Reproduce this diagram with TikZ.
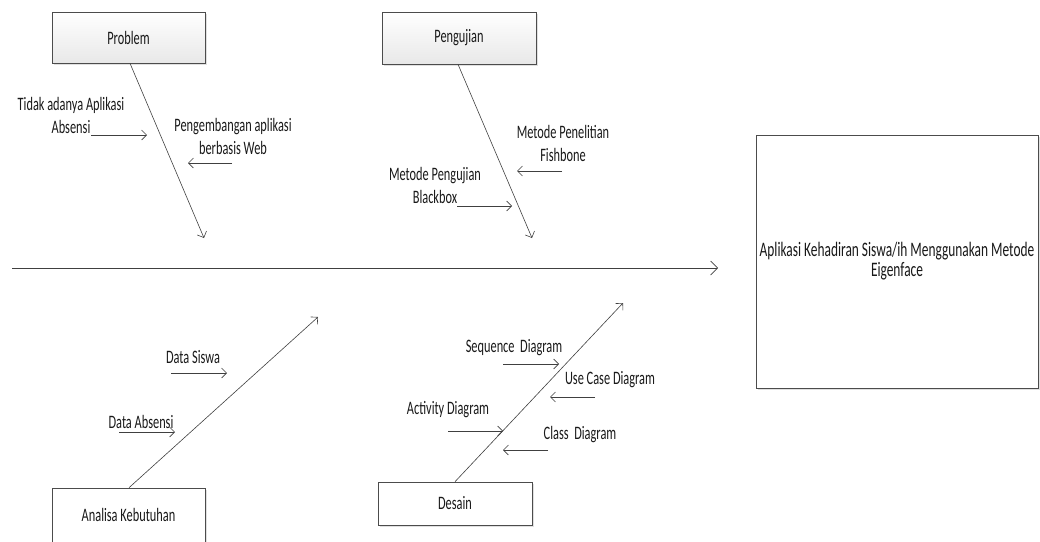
\documentclass[tikz,border=0pt]{standalone}
\usepackage{fontspec}
\setmainfont[FakeStretch=0.65]{Carlito}
\usetikzlibrary{arrows.meta,shadows}
\begin{document}
\begin{tikzpicture}[x=1pt,y=-1pt,
  every node/.style={font=\fontsize{19}{23}\selectfont, inner sep=0pt, align=center, text=black!90},
  box/.style={draw=black!70, line width=0.6pt, drop shadow={shadow xshift=2pt, shadow yshift=-2pt, fill=black!12, opacity=1}},
  gbox/.style={box, top color=white, bottom color=black!9},
  wbox/.style={box, fill=white},
  bone/.style={draw=black!75, line width=0.6pt, -{Straight Barb[length=5pt,width=10pt]}},
  spine/.style={draw=black!75, line width=0.7pt, -{Straight Barb[length=7pt,width=14pt]}}
]
\useasboundingbox (0,0) rectangle (1040,541);
\clip (0,0) rectangle (1040,541);

% boxes
\node[gbox, minimum width=153pt, minimum height=51pt] (prob) at (128.5,37.5) {Problem};
\node[gbox, minimum width=154pt, minimum height=52pt] (peng) at (459,38) {Pengujian};
\node[wbox, minimum width=153pt, minimum height=54pt] (anal) at (128.5,515) {Analisa Kebutuhan};
\node[wbox, minimum width=154pt, minimum height=43pt] (des) at (455,503.5) {Desain};
\node[wbox, minimum width=282pt, minimum height=253pt, font=\fontsize{20.6}{20}\selectfont] (res) at (897,261.5) {Aplikasi Kehadiran Siswa/ih Menggunakan Metode\\Eigenface};

% spine
\coordinate (s0) at (12,268);
\coordinate (s1) at (718,268);
\draw[spine] (s0) -- (s1);

% main bones
\coordinate (pt) at (204,238);
\coordinate (gt) at (532,238);
\coordinate (at) at (318,317);
\coordinate (dt) at (623,303);
\draw[bone] ([xshift=1.5pt]prob.south) -- (pt);
\draw[bone] (peng.south -| 458,0) -- (gt);
\draw[bone] (anal.north -| 129,0) -- (at);
\draw[bone] (des.north) -- (dt);

% labels
\node (l1) at (71,115) {Tidak adanya Aplikasi\\Absensi};
\node (l2) at (233,136) {Pengembangan aplikasi\\berbasis Web};
\node (l3) at (563,143) {Metode Penelitian\\Fishbone};
\node (l4) at (435,185) {Metode Pengujian\\Blackbox};
\node (l5) at (193,357) {Data Siswa};
\node (l6) at (141,422) {Data Absensi};
\node (l7) at (514,348) {Sequence~ Diagram};
\node (l8) at (610,380) {Use Case Diagram};
\node (l9) at (448,410) {Activity Diagram};
\node (l10) at (580,435) {Class~ Diagram};

% small arrows
\coordinate (a1s) at (91,135);  \coordinate (a1e) at (147,135);
\coordinate (a2s) at (232,163); \coordinate (a2e) at (188,163);
\coordinate (a3s) at (562,171); \coordinate (a3e) at (517,171);
\coordinate (a4s) at (457,206); \coordinate (a4e) at (512,206);
\coordinate (a5s) at (171,373); \coordinate (a5e) at (227,373);
\coordinate (a6s) at (119,432); \coordinate (a6e) at (175,432);
\coordinate (a7s) at (503,364); \coordinate (a7e) at (559,364);
\coordinate (a8s) at (595,397); \coordinate (a8e) at (550,397);
\coordinate (a9s) at (448,431); \coordinate (a9e) at (503,431);
\coordinate (a10s) at (548,450); \coordinate (a10e) at (503,450);
\foreach \i in {1,...,10} {\draw[bone] (a\i s) -- (a\i e);}
\end{tikzpicture}
\end{document}
